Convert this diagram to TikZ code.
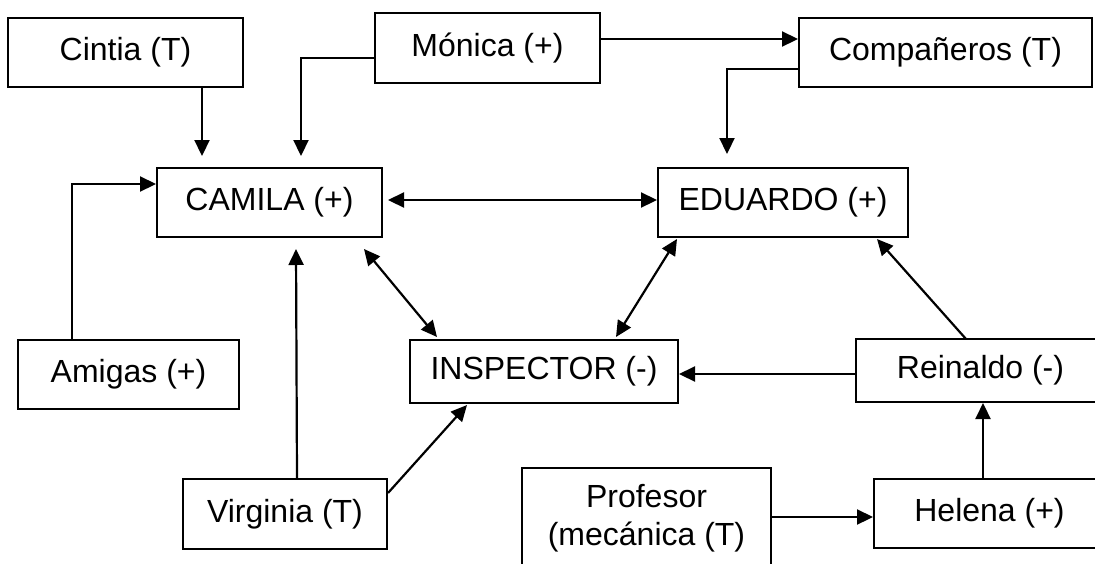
\documentclass[tikz,border=0pt]{standalone}
\usepackage{fontspec}
\setmainfont{Liberation Sans}
\usetikzlibrary{arrows.meta,calc}
\tikzset{
  box/.style={draw=black, line width=2pt, rectangle, inner sep=0pt, align=center,
    font=\fontsize{32}{38}\selectfont},
  tip/.style={Triangle[length=16pt,width=15pt]},
  arr/.style={line width=2.2pt, -{Triangle[length=16pt,width=15pt]}},
  darr/.style={line width=2.2pt, {Triangle[length=16pt,width=15pt]}-{Triangle[length=16pt,width=15pt]}}
}
\begin{document}
\begin{tikzpicture}[x=1pt,y=-1pt]
\useasboundingbox (0,0) rectangle (1095,563);
\fill[white] (0,0) rectangle (1095,563);
\clip (0,0) rectangle (1095,563);
% nodes
\node[box, minimum width=235pt, minimum height=69pt] (cintia) at (125.5,52.5) {Cintia (T)};
\node[box, minimum width=225pt, minimum height=70pt] (monica) at (487.5,48) {Mónica (+)};
\node[box, minimum width=293pt, minimum height=69pt] (comp) at (945.5,52.5) {Compañeros (T)};
\node[box, minimum width=225pt, minimum height=69pt] (camila) at (269.5,202.5) {CAMILA (+)};
\node[box, minimum width=250pt, minimum height=69pt] (eduardo) at (783,202.5) {EDUARDO (+)};
\node[box, minimum width=221pt, minimum height=69pt] (amigas) at (128.5,374.5) {Amigas (+)};
\node[box, minimum width=268pt, minimum height=63pt] (inspector) at (544,371.5) {INSPECTOR (-)};
\node[box, minimum width=249pt, minimum height=63pt] (reinaldo) at (980.5,370.5) {Reinaldo (-)};
\node[box, minimum width=204pt, minimum height=70pt] (virginia) at (285,514) {Virginia (T)};
\node[box, minimum width=249pt, minimum height=100pt] (profesor) at (646.5,518) {Profesor\\(mecánica (T)};
\node[box, minimum width=231pt, minimum height=69pt] (helena) at (989.5,513.5) {Helena (+)};
% connectors
\draw[arr] ($(cintia.south west)+(195,0)$) -- ($(camila.north west)+(46,-11)$);
\draw[arr] ($(monica.west)+(0,10)$) -| ($(camila.north west)+(145,-11)$);
\draw[arr] ($(monica.east)+(0,-9)$) coordinate (m1) -- (m1 -| comp.west);
\draw[arr] ($(comp.west)+(0,16.5)$) -| ($(eduardo.north west)+(70,-13)$);
\draw[arr] ($(amigas.north west)+(55,0)$) |- ($(camila.west)+(0,-18.5)$);
\draw[darr] ($(camila.east)+(5,-2.5)$) -- ($(eduardo.west)+(0,-2.5)$);
\draw[darr] ($(camila.south east)+(-19,11)$) -- ($(inspector.north west)+(28,-2)$);
\draw[darr] ($(eduardo.south west)+(20,1)$) -- ($(inspector.north east)+(-63,-2)$);
\draw[arr] ($(reinaldo.north west)+(111,1)$) -- ($(eduardo.south east)+(-32,1)$);
\draw[arr] ($(reinaldo.west)+(0,3.5)$) coordinate (r1) -- (r1 -| inspector.east);
\draw[arr] ($(virginia.north)+(12,0)$) -- ($(camila.south west)+(140,11)$);
\draw[arr] ($(virginia.east)+(0,-21)$) -- ($(inspector.south west)+(58,1)$);
\draw[arr] ($(profesor.east)+(0,-1)$) coordinate (p1) -- (p1 -| helena.west);
\draw[arr] ($(helena.north)+(-6.5,0)$) coordinate (h1) -- (h1 |- reinaldo.south);
\end{tikzpicture}
\end{document}
